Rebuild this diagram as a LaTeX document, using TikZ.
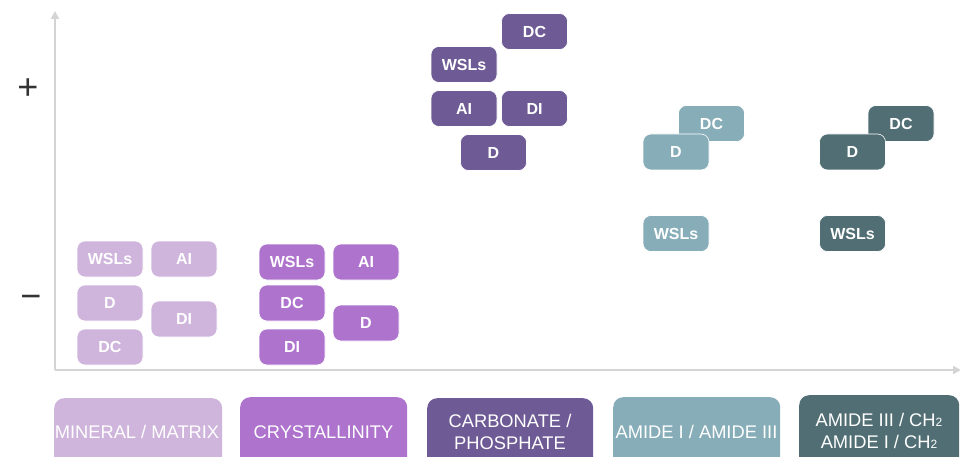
\documentclass[tikz,border=0pt]{standalone}
\usepackage{fontspec}
\setmainfont{Liberation Sans}
\usetikzlibrary{arrows.meta}
\definecolor{cMin}{HTML}{CFB5DC}
\definecolor{cCry}{HTML}{AE73CC}
\definecolor{cCar}{HTML}{6E5B95}
\definecolor{cAmA}{HTML}{87ADB8}
\definecolor{cAmB}{HTML}{506E73}
\definecolor{cAxis}{HTML}{D4D4D4}
\tikzset{
  tag/.style={rectangle, rounded corners=8pt, minimum width=66pt, minimum height=36pt,
    inner sep=0pt, draw=white, line width=0.6pt, text=white,
    font=\fontsize{16}{16}\selectfont\bfseries},
  cat/.style={rectangle, rounded corners=10pt, inner sep=0pt, text=white, align=center,
    font=\fontsize{18.3}{21.5}\selectfont},
  axisline/.style={draw=cAxis, line width=2.2pt, -{Triangle[length=8pt,width=8pt]}},
  sign/.style={font=\fontsize{36}{36}\selectfont, text=black!80, inner sep=0pt}
}
\newcommand{\subtwo}{{\fontsize{12}{12}\selectfont 2}}
\begin{document}
\begin{tikzpicture}[x=1pt,y=-1pt]
\useasboundingbox (0,0) rectangle (960,457);
\clip (0,0) rectangle (960,457);
% axes
\coordinate (O) at (55,370);
\coordinate (Ytop) at (55,11);
\coordinate (Xend) at (961,370);
\draw[axisline] (O) -- (Ytop);
\draw[axisline] (O) -- (Xend);
\node[sign] (plus) at (28,89) {+};
\node[sign] (minus) at (31,302) {−};
% category boxes
\node[cat, fill=cMin, minimum width=168pt, minimum height=80pt, anchor=north west] (catMin) at (54,398) {};
\node[cat] (catMinT) at (137,432) {MINERAL / MATRIX};
\node[cat, fill=cCry, minimum width=167pt, minimum height=80pt, anchor=north west] (catCry) at (240,397) {};
\node[cat] (catCryT) at (323.5,432) {CRYSTALLINITY};
\node[cat, fill=cCar, minimum width=166pt, minimum height=80pt, anchor=north west] (catCar) at (427,398) {};
\node[cat] (catCarT) at (510,432) {CARBONATE /\\PHOSPHATE};
\node[cat, fill=cAmA, minimum width=167pt, minimum height=80pt, anchor=north west] (catAmA) at (613,397) {};
\node[cat] (catAmAT) at (696.5,432) {AMIDE I / AMIDE III};
\node[cat, fill=cAmB, minimum width=160pt, minimum height=80pt, anchor=north west] (catAmB) at (799,395) {};
\node[cat] (catAmBT) at (879,431) {AMIDE III / CH\subtwo\\AMIDE I / CH\subtwo};
% mineral / matrix
\node[tag, fill=cMin] (m1) at (110,259) {WSLs};
\node[tag, fill=cMin] (m2) at (184,259) {AI};
\node[tag, fill=cMin] (m3) at (110,303) {D};
\node[tag, fill=cMin] (m4) at (184,319) {DI};
\node[tag, fill=cMin] (m5) at (110,347) {DC};
% crystallinity
\node[tag, fill=cCry] (c1) at (292,262) {WSLs};
\node[tag, fill=cCry] (c2) at (366,262) {AI};
\node[tag, fill=cCry] (c3) at (292,303) {DC};
\node[tag, fill=cCry] (c4) at (366,323) {D};
\node[tag, fill=cCry] (c5) at (292,347) {DI};
% carbonate / phosphate
\node[tag, fill=cCar] (p1) at (534.5,31.5) {DC};
\node[tag, fill=cCar] (p2) at (464,64.5) {WSLs};
\node[tag, fill=cCar] (p3) at (464,108.5) {AI};
\node[tag, fill=cCar] (p4) at (534.5,108.5) {DI};
\node[tag, fill=cCar] (p5) at (493.5,152.5) {D};
% amide I / amide III
\node[tag, fill=cAmA] (a1) at (711.5,123.5) {DC};
\node[tag, fill=cAmA] (a2) at (676,152) {D};
\node[tag, fill=cAmA] (a3) at (676,233.5) {WSLs};
% amide III / CH2
\node[tag, fill=cAmB] (b1) at (901,123.5) {DC};
\node[tag, fill=cAmB] (b2) at (852.5,152) {D};
\node[tag, fill=cAmB] (b3) at (852.5,233.5) {WSLs};
\end{tikzpicture}
\end{document}
